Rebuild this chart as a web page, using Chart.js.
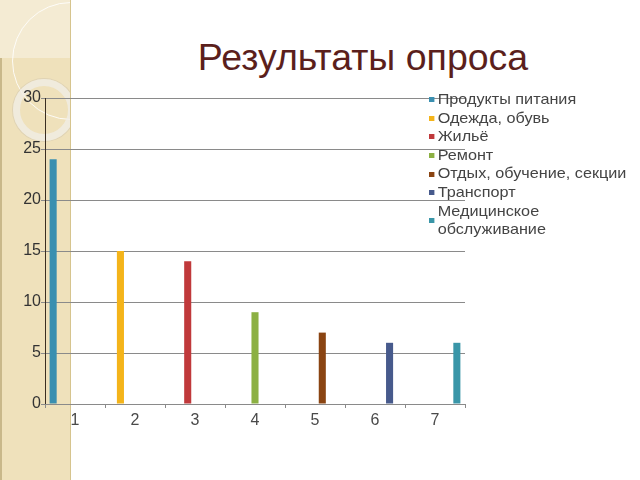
<!DOCTYPE html>
<html lang="ru">
<head>
<meta charset="utf-8">
<title>Результаты опроса</title>
<script src="https://cdn.jsdelivr.net/npm/chart.js@4/dist/chart.umd.min.js"></script>
<style>
  body { margin: 0; background: #fff; font-family: "Liberation Sans", Arial, sans-serif; }
  #wrap { position: relative; width: 640px; height: 480px; overflow: hidden; }
  #strip { position: absolute; left: 0; top: 0; width: 70px; height: 480px; overflow: hidden;
           background: #efe1bb; border-right: 1px solid #d6c48e; box-shadow: inset 2px 0 0 #c9b88a; }
  #strip .top { position: absolute; left: 0; top: 0; width: 70px; height: 58px; background: #f4ebd3; }
  #strip .c1 { position: absolute; left: 12px; top: 2px; width: 116px; height: 116px; border-radius: 50%;
               border: 1px solid rgba(255,255,255,0.85); }
  #strip .c2 { position: absolute; left: 13px; top: 79px; width: 48px; height: 48px; border-radius: 50%;
               border: 7px solid rgba(240,238,232,0.75); box-shadow: 0 0 0 1px rgba(200,190,170,0.4); }
  h1 { position: absolute; left: 0; top: 36px; width: 726px; margin: 0; text-align: center;
       font-weight: normal; font-size: 37.5px; color: #5b1f1c; }
  canvas { position: absolute; left: 0; top: 0; }
  #legend { position: absolute; left: 429px; top: 90px; margin: 0; padding: 0; list-style: none;
            font-size: 15px; line-height: 18.6px; color: #444; transform: scaleX(1.08); transform-origin: 0 0; }
  #legend li { position: relative; padding-left: 8px; }
  #legend li span { position: absolute; left: 0; top: 50%; width: 5px; height: 5px; margin-top: -2px; }
</style>
</head>
<body>
<div id="wrap">
  <div id="strip"><div class="top"></div><div class="c1"></div><div class="c2"></div></div>
  <h1>Результаты опроса</h1>
  <canvas id="ch" width="640" height="480"></canvas>
  <ul id="legend"></ul>
</div>
<script>
const categories = ['1', '2', '3', '4', '5', '6', '7'];
const seriesNames = ['Продукты питания', 'Одежда, обувь', 'Жильё', 'Ремонт',
                     'Отдых, обучение, секции', 'Транспорт', 'Медицинское обслуживание'];
const seriesValues = [24, 15, 14, 9, 7, 6, 6];
const seriesColors = ['#3a8fb0', '#f4b41a', '#c0393b', '#8cb043', '#8a4412', '#475a8c', '#3a96a8'];
const yMax = 30;
const yStep = 5;

let datasets = seriesNames.map((name, i) => ({
    label: name,
    data: categories.map((c, j) => j === i ? seriesValues[i] : null),
    backgroundColor: seriesColors[i],
    categoryPercentage: 0.85,
    barPercentage: 0.97
}));

let chart = new Chart('ch', {
    type: 'bar',
    data: { labels: categories, datasets: datasets },
    options: {
        responsive: false,
        animation: false,
        layout: { padding: { left: 0, top: 98, right: 175, bottom: 0 } },
        plugins: { legend: { display: false }, tooltip: { enabled: false } },
        scales: {
            y: {
                min: 0, max: yMax,
                ticks: { stepSize: yStep, padding: 0, color: '#333',
                         font: { family: 'Liberation Sans', size: 16 } },
                grid: { color: '#8a8a8a', tickLength: 4 },
                border: { color: '#3a2e22' },
                afterFit: (s) => { s.width = 45; }
            },
            x: {
                ticks: { color: '#4a4a4a', padding: 3, font: { family: 'Liberation Sans', size: 16 } },
                grid: { offset: true, drawOnChartArea: false, tickLength: 4, color: '#8a8a8a' },
                border: { color: '#8a8a8a' },
                afterFit: (s) => { s.height = 76; }
            }
        }
    }
});

// legend
let ul = document.getElementById('legend');
seriesNames.forEach((name, i) => {
    let li = document.createElement('li');
    let sw = document.createElement('span');
    sw.style.background = seriesColors[i];
    li.appendChild(sw);
    if (name === 'Медицинское обслуживание') {
        li.appendChild(document.createTextNode('Медицинское'));
        li.appendChild(document.createElement('br'));
        li.appendChild(document.createTextNode('обслуживание'));
    } else {
        li.appendChild(document.createTextNode(name));
    }
    ul.appendChild(li);
});
</script>
</body>
</html>
